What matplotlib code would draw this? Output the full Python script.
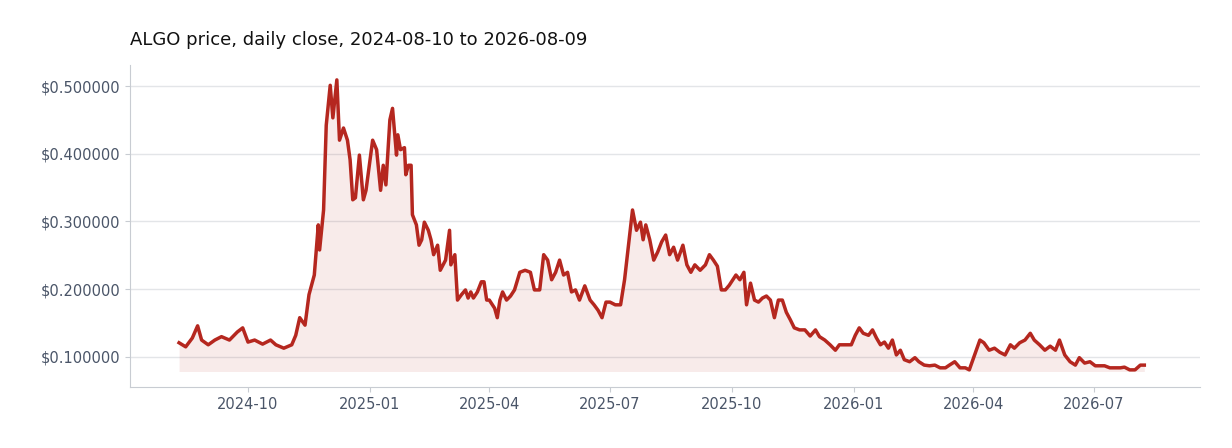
import matplotlib
matplotlib.use("Agg")
import matplotlib.pyplot as plt
import matplotlib.dates as mdates
import numpy as np
import pandas as pd

start = pd.Timestamp("2024-08-10")
day_offsets = [0,5,10,14,17,22,27,32,38,44,48,52,57,63,69,73,79,85,88,91,95,98,102,105,106,109,111,114,116,119,121,124,127,129,131,133,136,139,141,143,146,149,152,154,156,159,161,164,165,167,170,171,173,175,176,179,181,183,185,188,190,192,195,197,201,204,205,208,210,213,216,218,220,222,225,228,230,232,234,238,240,242,244,247,250,253,257,261,265,268,272,275,278,281,284,287,290,293,296,299,302,306,310,313,316,319,322,325,329,333,336,339,342,345,348,350,352,355,358,361,364,367,370,373,376,380,383,386,389,393,397,400,403,406,409,412,415,420,423,426,428,431,434,437,440,443,446,449,452,455,458,461,464,468,472,476,480,483,487,491,495,498,503,507,510,513,516,520,523,526,529,532,535,538,541,544,547,551,555,558,562,566,570,574,578,581,585,589,593,596,600,604,607,611,615,619,623,627,630,634,638,642,645,649,653,657,661,664,668,672,676,679,683,687,691,694,698,702,706,710,713,717,721,725,728]
prices = [0.121,0.115,0.128,0.146,0.125,0.118,0.125,0.130,0.125,0.137,0.143,0.122,0.125,0.119,0.125,0.118,0.113,0.118,0.132,0.158,0.147,0.192,0.221,0.295,0.258,0.317,0.442,0.501,0.453,0.509,0.420,0.438,0.420,0.391,0.332,0.335,0.398,0.332,0.346,0.376,0.420,0.406,0.346,0.383,0.354,0.450,0.467,0.398,0.428,0.406,0.409,0.369,0.383,0.383,0.310,0.295,0.265,0.273,0.299,0.287,0.273,0.251,0.265,0.228,0.243,0.287,0.236,0.251,0.184,0.192,0.199,0.187,0.196,0.187,0.196,0.211,0.211,0.184,0.184,0.172,0.158,0.184,0.196,0.184,0.190,0.199,0.225,0.228,0.225,0.199,0.199,0.251,0.243,0.214,0.225,0.243,0.221,0.225,0.196,0.199,0.184,0.205,0.184,0.177,0.169,0.158,0.181,0.181,0.177,0.177,0.214,0.265,0.317,0.287,0.299,0.273,0.295,0.273,0.243,0.255,0.270,0.280,0.251,0.262,0.243,0.265,0.236,0.225,0.236,0.228,0.236,0.251,0.243,0.234,0.199,0.199,0.206,0.221,0.214,0.225,0.177,0.209,0.184,0.181,0.187,0.190,0.184,0.158,0.184,0.184,0.166,0.155,0.143,0.140,0.140,0.131,0.140,0.130,0.125,0.118,0.110,0.118,0.118,0.118,0.132,0.143,0.135,0.132,0.140,0.128,0.118,0.122,0.113,0.125,0.103,0.110,0.096,0.093,0.099,0.093,0.088,0.087,0.088,0.084,0.084,0.088,0.093,0.084,0.084,0.081,0.103,0.125,0.121,0.110,0.113,0.107,0.103,0.118,0.113,0.121,0.125,0.135,0.125,0.118,0.110,0.116,0.110,0.125,0.103,0.093,0.088,0.099,0.091,0.093,0.087,0.087,0.087,0.084,0.084,0.084,0.085,0.081,0.081,0.088,0.088]

dates = start + pd.to_timedelta(day_offsets, unit="D")
color = "#b5271f"

fig = plt.figure(figsize=(12.32, 4.48), dpi=100)
ax = fig.add_axes([130/1232, 1-387/448, 1070/1232, 322/448])
base = min(prices) * 0.97
ax.fill_between(dates, prices, base, color=color, alpha=0.09, linewidth=0)
ax.plot(dates, prices, color=color, linewidth=2.5)

ax.set_xlim(start - pd.Timedelta(days=37), start + pd.Timedelta(days=770))
ax.set_ylim(0.0557, 0.531)
ax.set_yticks([0.1, 0.2, 0.3, 0.4, 0.5])
ax.yaxis.set_major_formatter(matplotlib.ticker.FuncFormatter(lambda v, p: f"${v:.6f}"))
ax.xaxis.set_major_locator(mdates.MonthLocator(bymonth=[1, 4, 7, 10]))
ax.xaxis.set_major_formatter(mdates.DateFormatter("%Y-%m"))
ax.grid(axis="y", color="#e3e5e8", linewidth=1)
ax.set_axisbelow(True)
for s in ["top", "right"]:
    ax.spines[s].set_visible(False)
for s in ["left", "bottom"]:
    ax.spines[s].set_color("#c8ccd2")
ax.tick_params(colors="#c8ccd2", labelcolor="#4a5568", labelsize=10.5)
fig.text(130/1232, 1-40/448, "ALGO price, daily close, 2024-08-10 to 2026-08-09",
         fontsize=13, color="#111111", va="center", ha="left")
fig.savefig("out.png", dpi=100)
